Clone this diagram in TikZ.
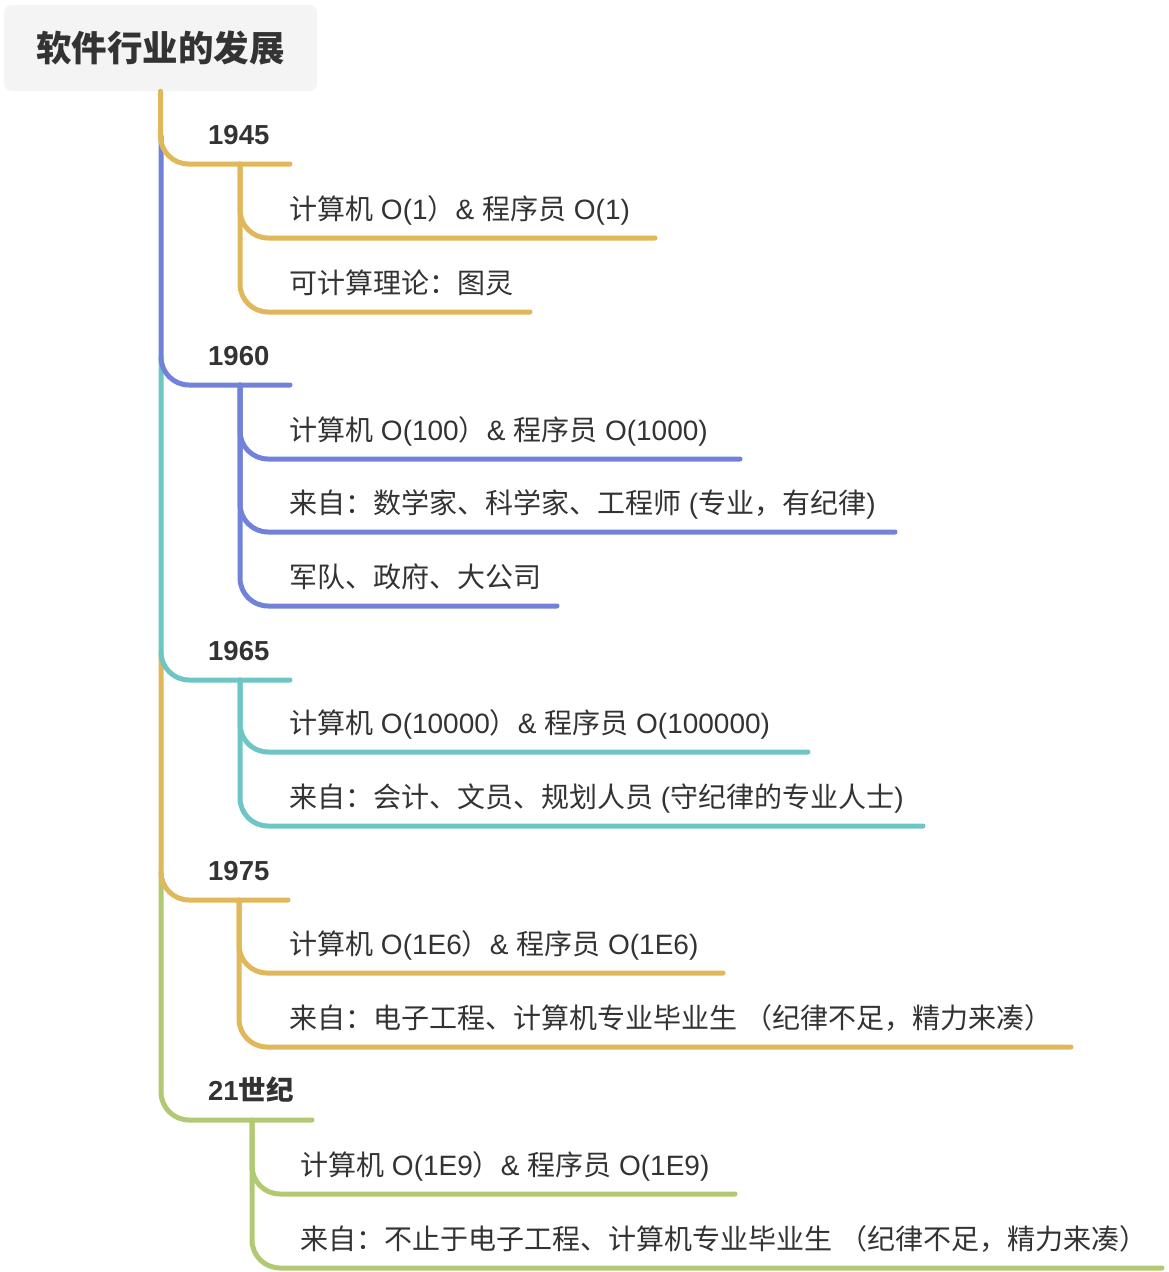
\documentclass[tikz,border=0pt]{standalone}
\usepackage{fontspec}
\setmainfont{Noto Sans CJK SC}
\newfontfamily\latf{Liberation Sans}
\newcommand\lx[1]{{\latf #1}}
\definecolor{cyel}{HTML}{E0B75A}
\definecolor{cblu}{HTML}{7282DA}
\definecolor{ctea}{HTML}{6EC5C5}
\definecolor{cgrn}{HTML}{B2C974}
\definecolor{ctxt}{HTML}{333333}
\definecolor{cbox}{HTML}{F4F4F4}
\begin{document}
\begin{tikzpicture}[x=1pt,y=-1pt,
  conn/.style={line width=5pt,line cap=round,rounded corners=28pt},
  titlebox/.style={fill=cbox,rounded corners=8pt,minimum width=313pt,minimum height=86pt,inner sep=0pt,text=ctxt,font=\fontsize{35.5}{40}\selectfont\bfseries},
  lab/.style={anchor=base west,inner sep=0pt,text=ctxt,font=\fontsize{27.5}{32}\selectfont\bfseries},
  leaf/.style={anchor=base west,inner sep=0pt,text=ctxt,font=\fontsize{28}{32}\selectfont}]
\useasboundingbox (0,0) rectangle (1169,1272);
\node[titlebox] (root) at (160.5,48) {软件行业的发展};

% trunk points and branch ends
\coordinate (k1) at (161,136);
\coordinate (k2) at (161,357);
\coordinate (k3) at (161,652);
\coordinate (k4) at (161,872);
\coordinate (e1) at (290,164);
\coordinate (e2) at (290,385);
\coordinate (e3) at (290,680);
\coordinate (e4) at (288,900);
\coordinate (e5) at (312,1120);
\coordinate (s1) at (240,164);
\coordinate (s2) at (240,385);
\coordinate (s3) at (240,680);
\coordinate (s4) at (239,900);
\coordinate (s5) at (252,1120);
\coordinate (f11) at (655,238);
\coordinate (f12) at (530,312);
\coordinate (f21) at (740,459);
\coordinate (f22) at (895,532);
\coordinate (f23) at (557,606);
\coordinate (f31) at (808,752);
\coordinate (f32) at (923,826);
\coordinate (f41) at (723,973);
\coordinate (f42) at (1071,1047);
\coordinate (f51) at (735,1194);
\coordinate (f52) at (1162,1268);

% main branches
\draw[conn,cgrn] (k4) |- (e5);
\draw[conn,cyel] (k3) |- (e4);
\draw[conn,ctea] (k2) |- (e3);
\draw[conn,cblu] (k1) |- (e2);
\draw[conn,cyel] (root.south) |- (e1);

% sub branches
\draw[conn,cyel] (s1) |- (f11);
\draw[conn,cyel] (s1) |- (f12);
\draw[conn,cblu] (s2) |- (f21);
\draw[conn,cblu] (s2) |- (f22);
\draw[conn,cblu] (s2) |- (f23);
\draw[conn,ctea] (s3) |- (f31);
\draw[conn,ctea] (s3) |- (f32);
\draw[conn,cyel] (s4) |- (f41);
\draw[conn,cyel] (s4) |- (f42);
\draw[conn,cgrn] (s5) |- (f51);
\draw[conn,cgrn] (s5) |- (f52);

% labels
\node[lab] (y1) at (208,144.5) {\lx{1945}};
\node[lab] (y2) at (208,365.5) {\lx{1960}};
\node[lab] (y3) at (208,660.5) {\lx{1965}};
\node[lab] (y4) at (208,880.5) {\lx{1975}};
\node[lab] (y5) at (208,1100.5) {\lx{21}世纪};

\node[leaf] (c11) at (289,219) {计算机\lx{ O(1}）\lx{\& }程序员\lx{ O(1)}};
\node[leaf] (c12) at (289,293) {可计算理论：图灵};
\node[leaf] (c21) at (289,440) {计算机\lx{ O(100}）\lx{\& }程序员\lx{ O(1000)}};
\node[leaf] (c22) at (289,513) {来自：数学家、科学家、工程师\lx{ (}专业，有纪律\lx{)}};
\node[leaf] (c23) at (289,587) {军队、政府、大公司};
\node[leaf] (c31) at (289,733) {计算机\lx{ O(10000}）\lx{\& }程序员\lx{ O(100000)}};
\node[leaf] (c32) at (289,807) {来自：会计、文员、规划人员\lx{ (}守纪律的专业人士\lx{)}};
\node[leaf] (c41) at (289,954) {计算机\lx{ O(1E6}）\lx{\& }程序员\lx{ O(1E6)}};
\node[leaf] (c42) at (289,1028) {来自：电子工程、计算机专业毕业生\lx{ }（纪律不足，精力来凑）};
\node[leaf] (c51) at (300,1175) {计算机\lx{ O(1E9}）\lx{\& }程序员\lx{ O(1E9)}};
\node[leaf] (c52) at (300,1249) {来自：不止于电子工程、计算机专业毕业生\lx{ }（纪律不足，精力来凑）};
\end{tikzpicture}
\end{document}
